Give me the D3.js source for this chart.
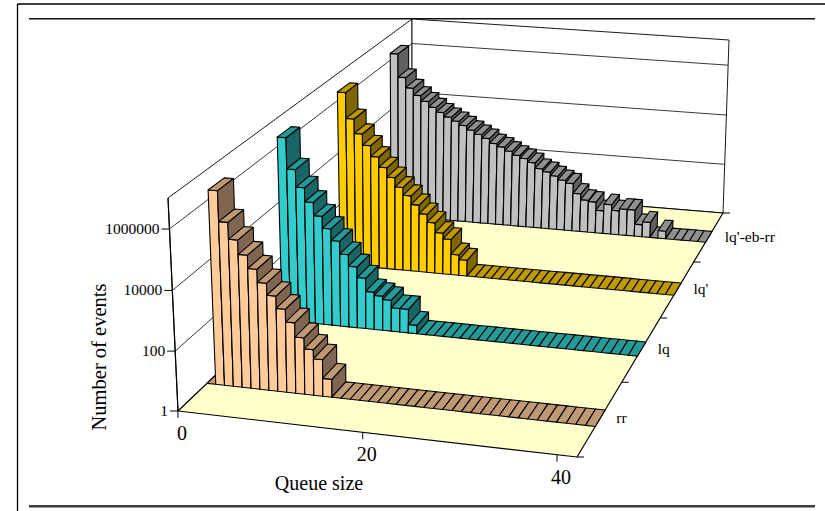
<!DOCTYPE html>
<html><head><meta charset="utf-8">
<script src="https://d3js.org/d3.v7.min.js"></script>
<style>html,body{margin:0;background:#fff}svg{display:block}text{font-family:"Liberation Serif",serif;fill:#000}</style>
</head><body><svg id="c" width="825" height="511"></svg>
<script>
// event counts; index = queue size 0..41
const seriesNames = ["rr","lq","lq'","lq'-eb-rr"];
const rr   = [1,3600000,340000,93000,31000,11200,4100,1620,630,235,79,34,17,4,1,1,1,1,1,1,1,1,1,1,1,1,1,1,1,1,1,1,1,1,1,1,1,1,1,1,1,1];
const lq   = [1,3800000,300000,72000,23000,7800,2950,1140,400,155,65,22,17,13,7,7,2,1,1,1,1,1,1,1,1,1,1,1,1,1,1,1,1,1,1,1,1,1,1,1,1,1];
const lqp  = [1,3700000,400000,115000,44000,17400,7200,3200,1450,740,350,166,83,36,22,6,4,1,1,1,1,1,1,1,1,1,1,1,1,1,1,1,1,1,1,1,1,1,1,1,1,1];
const lqeb = [1,3300000,400000,160000,85000,52000,32000,21000,14500,10500,7400,5100,3650,2650,1750,1350,970,700,550,395,240,190,138,100,78,32,19,17,8,15,9,11,11,3,4,1,2,1,1,1,1,1];
const seriesValues = [rr,lq,lqp,lqeb];
const queueTicks = [0,20,40];
const valueTicks = [1,100,10000,1000000];
const fronts = ["#FFCC99","#33CCCC","#FFCC00","#C0C0C0"];
const tops   = ["#BF9973","#269999","#BF9900","#909090"];
const sides  = ["#806650","#1A6666","#806600","#606060"];
const floorColor = "#FFFFCC";

const xS = d3.scaleLinear().domain([0,42]).range([0,1]);
const zS = d3.scaleLinear().domain([0,4]).range([0,1]);
const yS = d3.scaleLog().domain([1,1e7]).range([0,1]);

// view box: floor and ceiling quadrilaterals (front-left, front-right, back-left, back-right)
const floorQ=[[178,411],[577,457],[412,187.5],[723,213]];
const ceilQ =[[168,198],[580,228],[412,19],[729,40]];
const RHO=1.022;
function quad(Q){
  const [a,b,c,d]=Q;
  // solve w00*a + d = w10*b + w01*c, with w11 = 1
  const m=[[a[0],-b[0],-c[0],-d[0]],[a[1],-b[1],-c[1],-d[1]],[1,-1,-1,-1]];
  for(let i=0;i<3;i++){let p=i;for(let j=i+1;j<3;j++)if(Math.abs(m[j][i])>Math.abs(m[p][i]))p=j;[m[i],m[p]]=[m[p],m[i]];
    for(let j=0;j<3;j++)if(j!==i){const f=m[j][i]/m[i][i];for(let k=i;k<4;k++)m[j][k]-=f*m[i][k];}}
  const [w00,w10,w01]=m.map((r,i)=>r[3]/r[i]);
  return (u,v)=>{
    const A=(1-u)*(1-v)*w00,B=u*(1-v)*w10,C=(1-u)*v*w01,D=u*v,W=A+B+C+D;
    return [(A*a[0]+B*b[0]+C*c[0]+D*d[0])/W,(A*a[1]+B*b[1]+C*c[1]+D*d[1])/W];
  };
}
const F=quad(floorQ),T=quad(ceilQ);
function proj(u,v,h){
  const p=F(u,v),q=T(u,v),g=h/(h+(1-h)*RHO);
  return [p[0]+(q[0]-p[0])*g,p[1]+(q[1]-p[1])*g];
}
const pt=(x,z,val)=>proj(xS(x),zS(z),yS(val));
const svg=d3.select("#c");
const line=d3.line();
const poly=(g,pts,fill,sw=1.1)=>g.append("path").attr("d",line(pts)+"Z").attr("fill",fill).attr("stroke","#000").attr("stroke-width",sw).attr("stroke-linejoin","round");
const seg=(g,a,b,sw=1,c="#000")=>g.append("line").attr("x1",a[0]).attr("y1",a[1]).attr("x2",b[0]).attr("y2",b[1]).attr("stroke",c).attr("stroke-width",sw);

// frame
const frame=svg.append("g");
seg(frame,[17.5,4],[825,4],1.3);
seg(frame,[17.5,4],[17.5,511],1.3);
seg(frame,[29,19.5],[815,19.5],1,"#888");
seg(frame,[29,18.5],[815,18.5],1.2,"#111");
seg(frame,[29,507.5],[815,507.5],1,"#999");
seg(frame,[29,506],[815,506],1.3);

const g=svg.append("g");
// walls
poly(g,[pt(0,0,1),pt(0,0,1e7),pt(0,4,1e7),pt(0,4,1)],"#fff",.9);
poly(g,[pt(0,4,1),pt(0,4,1e7),pt(42,4,1e7),pt(42,4,1)],"#fff",.9);
valueTicks.slice(1).forEach(t=>{
  seg(g,pt(0,0,t),pt(0,4,t),.9,"#222");
  seg(g,pt(0,4,t),pt(42,4,t),.9,"#222");
});
// floor
poly(g,[pt(0,0,1),pt(42,0,1),pt(42,4,1),pt(0,4,1)],floorColor,1.2);

// bars back to front
const z0=.39,z1=.61;
d3.range(3,-1,-1).forEach(s=>{
  const gs=g.append("g");
  seriesValues[s].forEach((v,i)=>{
    const za=s+z0,zb=s+z1,xa=i,xb=i+1;
    if(v>1){
      poly(gs,[pt(xa,za,1),pt(xb,za,1),pt(xb,za,v),pt(xa,za,v)],fronts[s]);
      poly(gs,[pt(xb,za,1),pt(xb,zb,1),pt(xb,zb,v),pt(xb,za,v)],sides[s]);
    }
    poly(gs,[pt(xa,za,v),pt(xb,za,v),pt(xb,zb,v),pt(xa,zb,v)],tops[s]);
  });
});

// value axis
const ax=svg.append("g");
seg(ax,pt(0,0,1),pt(0,0,1e7),1.2);
valueTicks.forEach(t=>{
  const p=pt(0,0,t);
  seg(ax,[p[0]-8,p[1]],p,1);
  ax.append("text").attr("x",p[0]-10).attr("y",p[1]+5).attr("text-anchor","end").attr("font-size",15.5).text(String(t));
});
// queue axis
queueTicks.forEach(t=>{
  const p=pt(t,0,1);
  seg(ax,p,[p[0],p[1]+7],1);
  ax.append("text").attr("x",p[0]+4).attr("y",p[1]+29).attr("text-anchor","middle").attr("font-size",20).text(String(t));
});
// series axis
d3.range(0,5).forEach(s=>{
  const p=pt(42,s,1);
  seg(ax,p,[p[0]+7,p[1]],1);
});
seriesNames.forEach((n,s)=>{
  const p=pt(42,s+.5,1);
  ax.append("text").attr("x",p[0]+16).attr("y",p[1]+5).attr("font-size",15.5).text(n);
});
svg.append("text").attr("x",319).attr("y",490).attr("text-anchor","middle").attr("font-size",20).text("Queue size");
svg.append("text").attr("transform","translate(106,357) rotate(-90)").attr("text-anchor","middle").attr("font-size",20.5).text("Number of events");
</script></body></html>
